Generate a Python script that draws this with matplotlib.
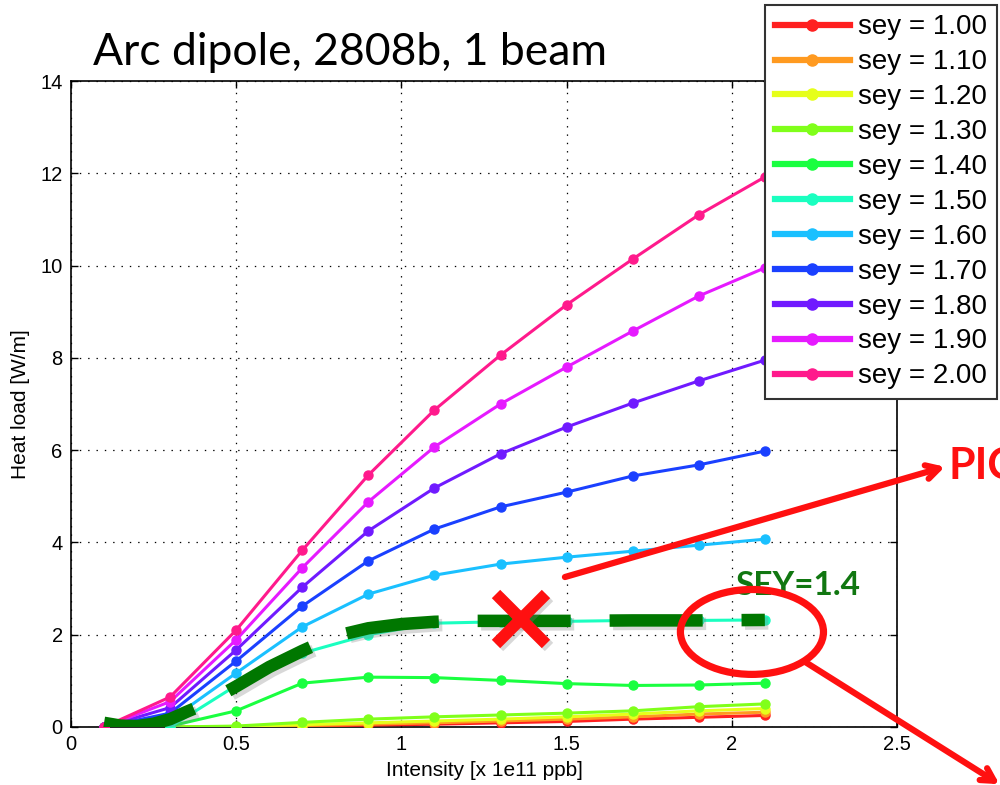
import matplotlib
matplotlib.use("Agg")
import matplotlib.pyplot as plt
import matplotlib.patheffects as pe
from matplotlib.patches import Ellipse
import numpy as np

plt.rcParams['font.family'] = ['Liberation Sans', 'DejaVu Sans']
plt.rcParams['lines.scale_dashes'] = False

# ---- data ----
intensity = [0.1, 0.3, 0.5, 0.7, 0.9, 1.1, 1.3, 1.5, 1.7, 1.9, 2.1]
sey_labels = ['sey = 1.00', 'sey = 1.10', 'sey = 1.20', 'sey = 1.30', 'sey = 1.40',
              'sey = 1.50', 'sey = 1.60', 'sey = 1.70', 'sey = 1.80', 'sey = 1.90', 'sey = 2.00']
sey_colors = ['#ff2020', '#ff9a20', '#e6ff1a', '#80ff1a', '#1aff40',
              '#1affc0', '#1ac0ff', '#1a40ff', '#701aff', '#e61aff', '#ff1a8c']
heat_100 = [0, 0, 0.00, 0.02, 0.04, 0.06, 0.09, 0.12, 0.17, 0.21, 0.25]
heat_110 = [0, 0, 0.00, 0.03, 0.06, 0.09, 0.13, 0.17, 0.22, 0.28, 0.32]
heat_120 = [0, 0, 0.01, 0.05, 0.09, 0.13, 0.17, 0.22, 0.28, 0.35, 0.40]
heat_130 = [0, 0, 0.02, 0.10, 0.17, 0.22, 0.26, 0.30, 0.35, 0.44, 0.50]
heat_140 = [0, 0.02, 0.35, 0.95, 1.08, 1.07, 1.01, 0.94, 0.90, 0.91, 0.95]
heat_150 = [0, 0.00, 0.90, 1.60, 2.00, 2.25, 2.28, 2.29, 2.31, 2.31, 2.32]
heat_160 = [0, 0.15, 1.17, 2.17, 2.88, 3.29, 3.53, 3.68, 3.81, 3.94, 4.07]
heat_170 = [0, 0.30, 1.43, 2.62, 3.60, 4.29, 4.77, 5.09, 5.44, 5.68, 5.98]
heat_180 = [0, 0.42, 1.67, 3.03, 4.25, 5.18, 5.92, 6.50, 7.02, 7.50, 7.95]
heat_190 = [0, 0.55, 1.89, 3.45, 4.88, 6.07, 7.00, 7.80, 8.58, 9.34, 9.95]
heat_200 = [0, 0.65, 2.10, 3.83, 5.46, 6.87, 8.06, 9.15, 10.14, 11.10, 11.92]
heat_series = [heat_100, heat_110, heat_120, heat_130, heat_140, heat_150,
               heat_160, heat_170, heat_180, heat_190, heat_200]

# hand-drawn green dashed overlay (SEY=1.4 from other code)
overlay_x = [0.1, 0.15, 0.2, 0.25, 0.3, 0.35, 0.4, 0.5, 0.6, 0.7, 0.8, 0.9, 1.0,
             1.1, 1.2, 1.3, 1.5, 1.7, 1.9, 2.1]
overlay_y = [0.09, 0.03, 0.02, 0.07, 0.17, 0.33, 0.48, 0.88, 1.30, 1.65, 1.97, 2.14, 2.23,
             2.28, 2.30, 2.30, 2.30, 2.31, 2.31, 2.32]

xticks = [0, 0.5, 1, 1.5, 2, 2.5]
xticklabels = ['0', '0.5', '1', '1.5', '2', '2.5']
yticks = [0, 2, 4, 6, 8, 10, 12, 14]

# ---- figure ----
fig = plt.figure(figsize=(10, 7.85), dpi=100)
ax = fig.add_axes([0.071, 0.0739, 0.826, 0.8229])

handles = []
for ys, c, lab in zip(heat_series, sey_colors, sey_labels):
    h, = ax.plot(intensity, ys, '-o', color=c, lw=2.2, ms=6.5, label=lab, zorder=3)
    handles.append(h)

ax.set_xlim(0, 2.5)
ax.set_ylim(0, 14)
ax.set_xticks(xticks)
ax.set_xticklabels(xticklabels)
ax.set_yticks(yticks)
ax.tick_params(direction='in', length=5, width=1, labelsize=14.5, top=True, right=True, pad=6)
ax.grid(True, color='black', linestyle=(0, (1, 5)), lw=0.9)
for s in ax.spines.values():
    s.set_linewidth(1.2)
ax.set_xlabel('Intensity [x 1e11 ppb]', fontsize=15)
ax.set_ylabel('Heat load [W/m]', fontsize=15)
ax.xaxis.set_label_coords(0.5, -0.052)
ax.yaxis.set_label_coords(-0.05, 0.5)

shadow = [pe.SimpleLineShadow(offset=(2.5, -2.5), shadow_color='gray', alpha=0.3), pe.Normal()]

ax.plot(overlay_x, overlay_y, color='#007700', lw=9, dashes=(67, 28),
        solid_capstyle='butt', dash_capstyle='butt', zorder=5, path_effects=shadow)

ax.plot([1.362], [2.34], marker='x', color='#ff1010', ms=36, mew=8.5, zorder=6,
        linestyle='none', path_effects=shadow)

ax.text(2.01, 2.85, 'SEY=1.4', color='#117711', fontsize=24, fontweight='bold',
        family=['Lato', 'DejaVu Sans'], ha='left', va='baseline', zorder=6)

ell = Ellipse((2.061, 2.06), 0.433, 1.84, fill=False, edgecolor='#ff1010', lw=5.2,
              zorder=7, clip_on=False)
ax.add_patch(ell)

ax.annotate('', xy=(2.645, 5.64), xytext=(1.495, 3.25), xycoords='data',
            arrowprops=dict(arrowstyle='->,head_length=0.9,head_width=0.5',
                            color='#ff1010', lw=4.5, shrinkA=0, shrinkB=0),
            annotation_clip=False, zorder=7)
ax.annotate('', xy=(2.81, -1.24), xytext=(2.222, 1.41), xycoords='data',
            arrowprops=dict(arrowstyle='->,head_length=0.9,head_width=0.5',
                            color='#ff1010', lw=4.5, shrinkA=0, shrinkB=0),
            annotation_clip=False, zorder=7)
fig.text(0.948, 1 - 479 / 785, 'PIC', color='#ff1010', fontsize=31, fontweight='bold',
         family=['Lato', 'DejaVu Sans'], ha='left', va='baseline')

fig.text(0.093, 1 - 65 / 785, 'Arc dipole, 2808b, 1 beam', fontsize=32,
         family=['Lato', 'DejaVu Sans'], ha='left', va='baseline')

leg = fig.legend(handles=handles, loc='upper right', bbox_to_anchor=(0.997, 0.994),
                 fontsize=20, frameon=True, fancybox=False, framealpha=1,
                 edgecolor='#333333', handlelength=2.7, handletextpad=0.3,
                 labelspacing=0.32, borderpad=0.35, borderaxespad=0, numpoints=1)
leg.get_frame().set_linewidth(1.5)
for lh in leg.get_lines():
    lh.set_linewidth(4.5)
    lh.set_markersize(8)

fig.savefig('out.png', dpi=100)
